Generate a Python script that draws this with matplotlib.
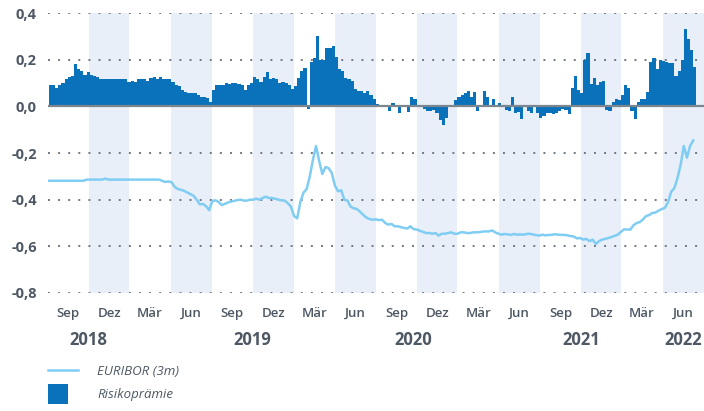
import numpy as np
import pandas as pd
import matplotlib.pyplot as plt
import matplotlib.transforms as mtransforms
from matplotlib.lines import Line2D
from matplotlib.patches import Rectangle

# weekly values, first week starting 2018-09-03
week_start = "2018-09-03"

risk_premium = [
    0.09, 0.09, 0.08, 0.09, 0.10, 0.115, 0.125, 0.13, 0.18, 0.16,
    0.15, 0.135, 0.145, 0.135, 0.13, 0.125, 0.115, 0.115, 0.115, 0.115,
    0.115, 0.115, 0.115, 0.115, 0.115, 0.105, 0.11, 0.105, 0.115, 0.115,
    0.115, 0.11, 0.12, 0.125, 0.115, 0.125, 0.115, 0.115, 0.115, 0.105,
    0.09, 0.085, 0.07, 0.06, 0.057, 0.057, 0.055, 0.05, 0.04, 0.04,
    0.035, 0.02, 0.07, 0.09, 0.09, 0.09, 0.10, 0.095, 0.10, 0.10,
    0.095, 0.09, 0.07, 0.09, 0.10, 0.125, 0.115, 0.105, 0.125, 0.145,
    0.115, 0.12, 0.115, 0.10, 0.105, 0.10, 0.09, 0.075, 0.085, 0.12,
    0.15, 0.165, -0.01, 0.19, 0.205, 0.30, 0.20, 0.20, 0.25, 0.25,
    0.26, 0.21, 0.16, 0.15, 0.12, 0.115, 0.11, 0.075, 0.067, 0.067,
    0.055, 0.065, 0.05, 0.03, 0.01, 0.005, 0.005, -0.005, -0.02, 0.015,
    0.005, -0.03, 0.005, -0.005, -0.025, 0.04, 0.03, 0.0, -0.005, -0.01,
    -0.02, -0.02, -0.017, -0.03, -0.06, -0.08, -0.05, 0.0, -0.005, 0.025,
    0.04, 0.05, 0.055, 0.065, 0.04, 0.06, -0.02, -0.005, 0.065, 0.04,
    0.0, 0.03, 0.0, 0.015, 0.005, -0.015, -0.02, 0.04, -0.03, -0.025,
    -0.055, -0.005, -0.02, -0.03, -0.005, -0.03, -0.05, -0.04, -0.03, -0.03,
    -0.035, -0.03, -0.02, -0.01, -0.015, -0.035, 0.08, 0.13, 0.07, 0.057,
    0.20, 0.23, 0.095, 0.12, 0.09, 0.105, 0.107, -0.015, -0.02, 0.02,
    0.033, 0.025, 0.05, 0.09, 0.08, -0.02, -0.055, 0.02, 0.03, 0.033,
    0.06, 0.19, 0.205, 0.16, 0.20, 0.195, 0.19, 0.185, 0.185, 0.13,
    0.15, 0.20, 0.33, 0.29, 0.24, 0.17,
]

euribor = [
    -0.319, -0.319, -0.319, -0.319, -0.319, -0.319, -0.319, -0.319, -0.319, -0.319,
    -0.319, -0.319, -0.314, -0.314, -0.314, -0.314, -0.314, -0.314, -0.31, -0.314,
    -0.314, -0.314, -0.314, -0.314, -0.314, -0.314, -0.314, -0.314, -0.314, -0.314,
    -0.314, -0.314, -0.314, -0.314, -0.314, -0.314, -0.319, -0.324, -0.322, -0.325,
    -0.345, -0.354, -0.358, -0.362, -0.369, -0.376, -0.383, -0.40, -0.42, -0.418,
    -0.428, -0.445, -0.405, -0.403, -0.41, -0.423, -0.418, -0.412, -0.408, -0.405,
    -0.402, -0.40, -0.404, -0.404, -0.40, -0.40, -0.396, -0.40, -0.393, -0.387,
    -0.393, -0.393, -0.396, -0.40, -0.403, -0.404, -0.415, -0.43, -0.47, -0.48,
    -0.41, -0.37, -0.355, -0.30, -0.23, -0.17, -0.235, -0.29, -0.26, -0.265,
    -0.285, -0.34, -0.364, -0.36, -0.40, -0.404, -0.43, -0.437, -0.44, -0.452,
    -0.465, -0.477, -0.483, -0.486, -0.484, -0.488, -0.486, -0.50, -0.507, -0.504,
    -0.514, -0.514, -0.518, -0.521, -0.524, -0.514, -0.526, -0.528, -0.533, -0.538,
    -0.543, -0.543, -0.546, -0.543, -0.554, -0.546, -0.546, -0.543, -0.54, -0.546,
    -0.546, -0.54, -0.54, -0.543, -0.543, -0.54, -0.54, -0.539, -0.537, -0.536,
    -0.536, -0.532, -0.54, -0.546, -0.55, -0.547, -0.549, -0.551, -0.547, -0.55,
    -0.549, -0.55, -0.547, -0.546, -0.549, -0.552, -0.554, -0.55, -0.553, -0.551,
    -0.551, -0.548, -0.55, -0.551, -0.551, -0.553, -0.556, -0.558, -0.566, -0.564,
    -0.571, -0.568, -0.578, -0.571, -0.59, -0.578, -0.571, -0.568, -0.564, -0.56,
    -0.555, -0.55, -0.538, -0.527, -0.528, -0.528, -0.51, -0.50, -0.496, -0.485,
    -0.47, -0.466, -0.457, -0.455, -0.447, -0.44, -0.435, -0.41, -0.366, -0.35,
    -0.307, -0.25, -0.17, -0.22, -0.17, -0.146,
]

month_labels = ["Sep", "Dez", "Mär", "Jun"]
year_labels = ["2018", "2019", "2020", "2021", "2022"]
year_pos = ["2018-12-01", "2019-12-01", "2020-11-22", "2021-12-01", "2022-07-17"]
y_ticks = [0.4, 0.2, 0.0, -0.2, -0.4, -0.6, -0.8]

bar_color = "#0a72ba"
line_color = "#80cdf3"
band_color = "#e8eff9"
text_color = "#4d5864"

plt.rcParams['font.family'] = ['Open Sans', 'DejaVu Sans']

dates = pd.date_range(week_start, periods=len(risk_premium), freq="7D")

fig = plt.figure(figsize=(7.04, 4.11), dpi=100)
ax = fig.add_axes([48 / 704, 118 / 411, 656 / 704, 280 / 411])

x0 = pd.Timestamp("2018-09-01")
x1 = pd.Timestamp("2022-09-01")
ax.set_xlim(x0, x1)
ax.set_ylim(-0.8, 0.4)

# quarter bands (Dez-Feb, Jun-Aug shaded)
q_starts = pd.date_range(x0, periods=17, freq="3MS")
for s, e in zip(q_starts[:-1], q_starts[1:]):
    if s.month in (12, 6):
        ax.axvspan(s, e, color=band_color, lw=0, zorder=0)

# dotted grid + zero line
for yv in y_ticks:
    if yv == 0:
        continue
    ax.axhline(yv, color="#6e7882", lw=1.4, ls=(0, (1, 4.2)), zorder=1)

ax.bar(dates, risk_premium, width=7, align="edge", color=bar_color,
       linewidth=0, zorder=2)
ax.axhline(0, color="#7b868f", lw=1.6, zorder=3)
ax.plot(dates, euribor, color=line_color, lw=1.8, zorder=4,
        solid_joinstyle="round")

for sp in ax.spines.values():
    sp.set_visible(False)

ax.set_yticks(y_ticks)
ax.set_yticklabels([f"{v:.1f}".replace(".", ",") for v in y_ticks],
                   fontsize=10.5, fontweight="bold", color=text_color)
ax.tick_params(axis="y", length=0, pad=8)
ax.set_xticks([])

trans = mtransforms.blended_transform_factory(ax.transData, ax.transAxes)
for i, (s, e) in enumerate(zip(q_starts[:-1], q_starts[1:])):
    mid = s + (e - s) / 2
    ax.text(mid, -0.072, month_labels[i % 4], transform=trans, ha="center",
            va="center", fontsize=9.5, fontweight="semibold", color=text_color)

for lab, pos in zip(year_labels, year_pos):
    ax.text(pd.Timestamp(pos), -0.168, lab, transform=trans, ha="center",
            va="center", fontsize=12, fontweight="bold", color=text_color)

# legend
fig.add_artist(Line2D([48 / 704, 78 / 704], [1 - 370 / 411, 1 - 370 / 411],
                      color=line_color, lw=1.8, transform=fig.transFigure))
fig.add_artist(Rectangle((48 / 704, 1 - 404 / 411), 20 / 704, 20 / 411,
                         color=bar_color, lw=0, transform=fig.transFigure))
fig.text(97 / 704, 1 - 371 / 411, "EURIBOR (3m)", ha="left", va="center",
         fontsize=9.5, style="italic", color=text_color)
fig.text(97 / 704, 1 - 394 / 411, "Risikoprämie", ha="left", va="center",
         fontsize=9.5, style="italic", color=text_color)

fig.savefig("out.png", dpi=100)
